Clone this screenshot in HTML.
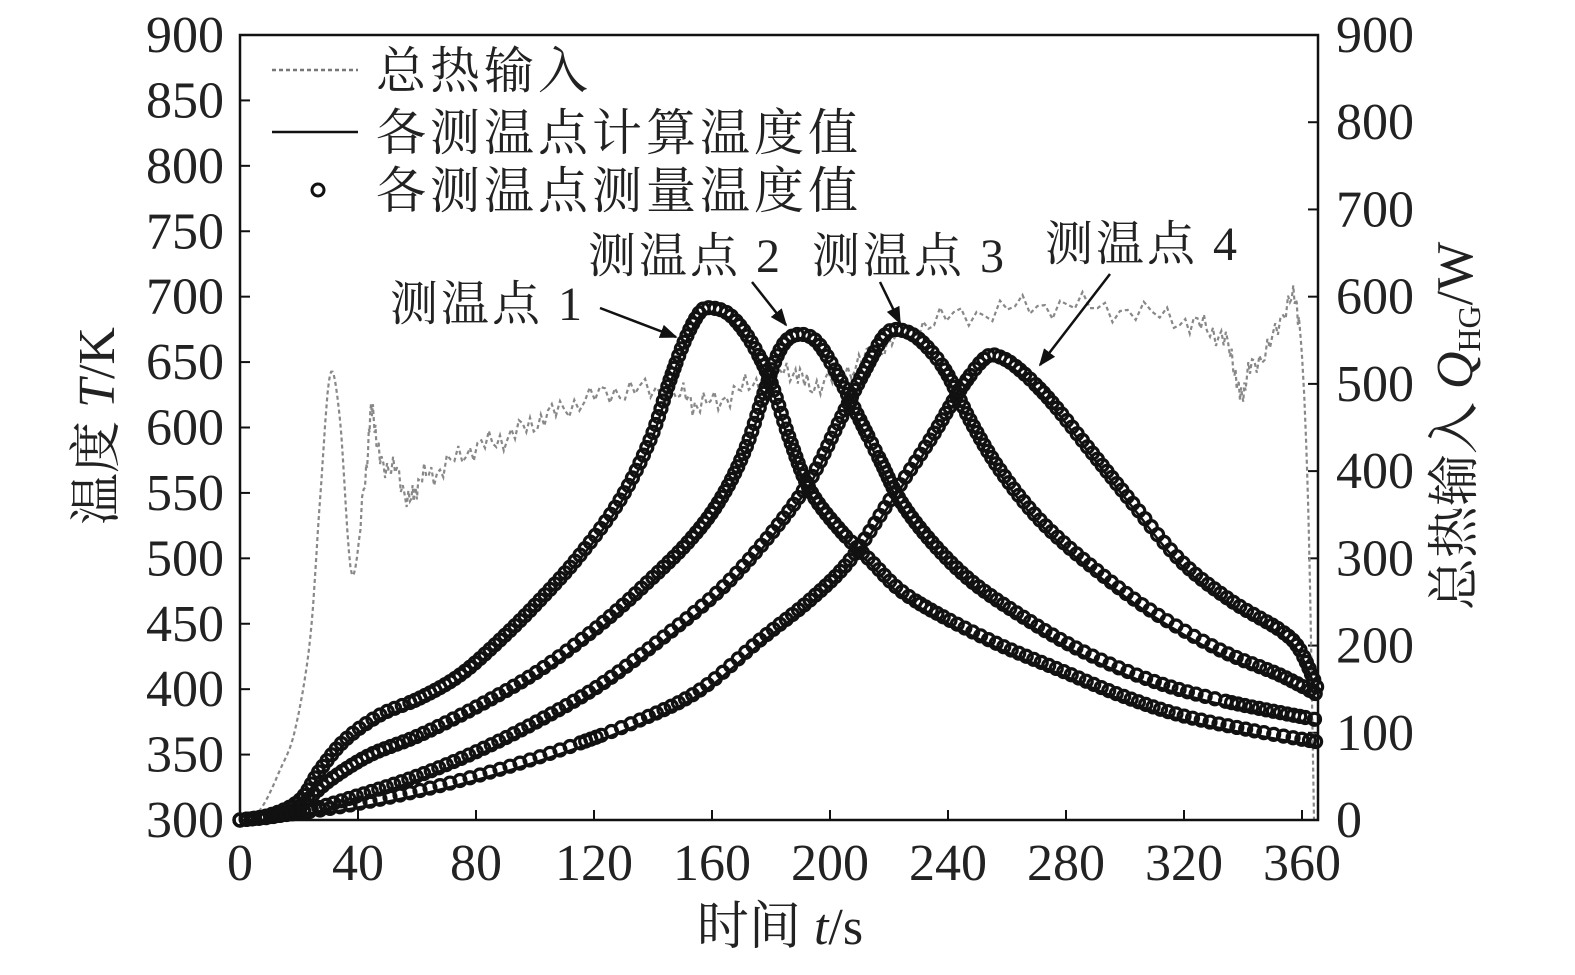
<!DOCTYPE html>
<html><head><meta charset="utf-8"><style>
html,body{margin:0;padding:0;background:#fff}
text{font-family:"Liberation Serif","Noto Serif CJK SC",serif;fill:#222}
</style></head><body>
<svg id="s" width="1575" height="970" xmlns="http://www.w3.org/2000/svg">
<defs><marker id="ah" viewBox="0 0 10 10" refX="9" refY="5" markerWidth="7" markerHeight="7" orient="auto"><path d="M0,1 L10,5 L0,9 z" fill="#111"/></marker></defs>
<g id="g"></g>
<rect x="240" y="35" width="1078" height="785" fill="none" stroke="#111" stroke-width="2.5"/>
<g id="ax" font-size="52"></g>
<line x1="272" y1="70" x2="358" y2="70" stroke="#777" stroke-width="2.5" stroke-dasharray="4,3"/>
<text x="376" y="88" font-size="50" letter-spacing="4">总热输入</text>
<line x1="272" y1="132" x2="358" y2="132" stroke="#111" stroke-width="2.5"/>
<text x="376" y="150" font-size="50" letter-spacing="4">各测温点计算温度值</text>
<circle cx="318" cy="190" r="6" fill="none" stroke="#111" stroke-width="3"/>
<text x="376" y="208" font-size="50" letter-spacing="4">各测温点测量温度值</text>
<text x="390" y="320" font-size="48" letter-spacing="3">测温点 1</text>
<text x="588" y="272" font-size="48" letter-spacing="3">测温点 2</text>
<text x="812" y="272" font-size="48" letter-spacing="3">测温点 3</text>
<text x="1045" y="260" font-size="48" letter-spacing="3">测温点 4</text>
<line x1="600" y1="308" x2="676" y2="337" stroke="#111" stroke-width="2.5" marker-end="url(#ah)"/>
<line x1="752" y1="282" x2="786" y2="325" stroke="#111" stroke-width="2.5" marker-end="url(#ah)"/>
<line x1="880" y1="282" x2="900" y2="323" stroke="#111" stroke-width="2.5" marker-end="url(#ah)"/>
<line x1="1110" y1="274" x2="1040" y2="365" stroke="#111" stroke-width="2.5" marker-end="url(#ah)"/>
<text x="780" y="944" font-size="52" text-anchor="middle">时间 <tspan font-style="italic">t</tspan>/s</text>
<text transform="translate(114,426) rotate(-90)" font-size="52" text-anchor="middle">温度 <tspan font-style="italic">T</tspan>/K</text>
<text transform="translate(1472,426) rotate(-90)" font-size="52" text-anchor="middle">总热输入 <tspan font-style="italic">Q</tspan><tspan font-size="32" dy="8">HG</tspan><tspan dy="-8">/W</tspan></text>
</svg>
<script>
var NS="http://www.w3.org/2000/svg",g=document.getElementById('g'),ax=document.getElementById('ax');
function el(t,a,p){var e=document.createElementNS(NS,t);for(var k in a)e.setAttribute(k,a[k]);(p||g).appendChild(e);return e;}
for(var v=300;v<=900;v+=50){var y=820-(v-300)*785/600;
 el('line',{x1:240,y1:y,x2:250,y2:y,stroke:'#111','stroke-width':2});
 var t=el('text',{x:224,y:y+17,'text-anchor':'end'},ax);t.textContent=v;}
for(var v=0;v<=900;v+=100){var y=820-v*785/900;
 el('line',{x1:1308,y1:y,x2:1318,y2:y,stroke:'#111','stroke-width':2});
 var t=el('text',{x:1336,y:y+17},ax);t.textContent=v;}
for(var v=0;v<=360;v+=40){var x=240+v*2.95;
 el('line',{x1:x,y1:820,x2:x,y2:810,stroke:'#111','stroke-width':2});
 var t=el('text',{x:x,y:880,'text-anchor':'middle'},ax);t.textContent=v;}
function cr(P,n){var o=[];for(var i=0;i<P.length-1;i++){var p0=P[Math.max(i-1,0)],p1=P[i],p2=P[i+1],p3=P[Math.min(i+2,P.length-1)];
 for(var j=0;j<n;j++){var t=j/n,t2=t*t,t3=t2*t;o.push([0,1].map(function(k){return 0.5*(2*p1[k]+(-p0[k]+p2[k])*t+(2*p0[k]-5*p1[k]+4*p2[k]-p3[k])*t2+(-p0[k]+3*p1[k]-3*p2[k]+p3[k])*t3);}));}}
 o.push(P[P.length-1]);return o;}
var C=[
[[240,820],[270,815],[300,800],[320,770],[345,740],[380,715],[420,698],[460,675],[500,640],[540,600],[580,555],[620,500],[650,440],[670,380],[685,340],[700,312],[712,308],[730,315],[750,340],[770,380],[790,440],[810,490],[840,530],[870,560],[900,590],[940,615],[1000,645],[1060,670],[1120,695],[1180,715],[1250,730],[1318,742]],
[[240,820],[290,812],[330,780],[370,755],[420,735],[480,705],[540,670],[600,625],[650,580],[690,540],[720,500],[745,450],[765,390],[780,350],[795,335],[815,340],[835,370],[860,420],[880,460],[900,500],[930,540],[970,580],[1020,615],[1080,650],[1150,680],[1220,700],[1318,720]],
[[240,820],[300,812],[360,795],[420,775],[480,750],[540,720],[600,685],[660,640],[720,590],[770,535],[810,480],[840,420],[865,370],[885,335],[900,330],[920,340],[945,370],[970,420],[1000,470],[1040,520],[1090,565],[1150,610],[1220,650],[1280,675],[1318,695]],
[[240,820],[320,810],[400,795],[480,775],[560,750],[640,720],[700,690],[760,640],[810,600],[850,560],[890,500],[930,440],[960,390],[985,358],[1000,357],[1020,370],[1050,400],[1090,450],[1130,500],[1180,560],[1230,600],[1280,630],[1300,650],[1318,690]]];
var Q=[[240,820],[260,810],[280,770],[295,730],[310,640],[320,500],[330,375],[340,420],[352,575],[365,480],[372,410],[380,460],[395,470],[410,500],[420,480],[440,470],[470,450],[500,440],[530,425],[560,410],[600,395],[640,390],[680,395],[700,405],[730,395],[760,380],[790,370],[810,385],[840,375],[870,355],[900,335],[940,320],[1000,310],[1060,305],[1120,310],[1180,320],[1210,330],[1230,350],[1240,395],[1250,370],[1270,345],[1290,300],[1300,330],[1308,500],[1314,820]];
var q=cr(Q,8),d='';q.forEach(function(p,i){var j=(p[0]>360&&p[0]<1300)?(Math.sin(i*2.3)*9+Math.sin(i*0.7)*5):0;d+=(i?'L':'M')+p[0].toFixed(1)+','+(p[1]+j).toFixed(1);});
el('path',{d:d,fill:'none',stroke:'#888','stroke-width':2.2,'stroke-dasharray':'4,3'});
C.forEach(function(P){var s=cr(P,16),d='';s.forEach(function(p,i){d+=(i?'L':'M')+p[0].toFixed(1)+','+(p[1]+4).toFixed(1);});
 el('path',{d:d,fill:'none',stroke:'#111','stroke-width':2.5});
 var acc=0;el('circle',{cx:s[0][0],cy:s[0][1],r:6,fill:'none',stroke:'#111','stroke-width':3.2});
 for(var i=1;i<s.length;i++){acc+=Math.hypot(s[i][0]-s[i-1][0],s[i][1]-s[i-1][1]);if(acc>=5.5){acc=0;el('circle',{cx:s[i][0],cy:s[i][1],r:6,fill:'none',stroke:'#111','stroke-width':3.2});}}});
</script>
</body></html>
